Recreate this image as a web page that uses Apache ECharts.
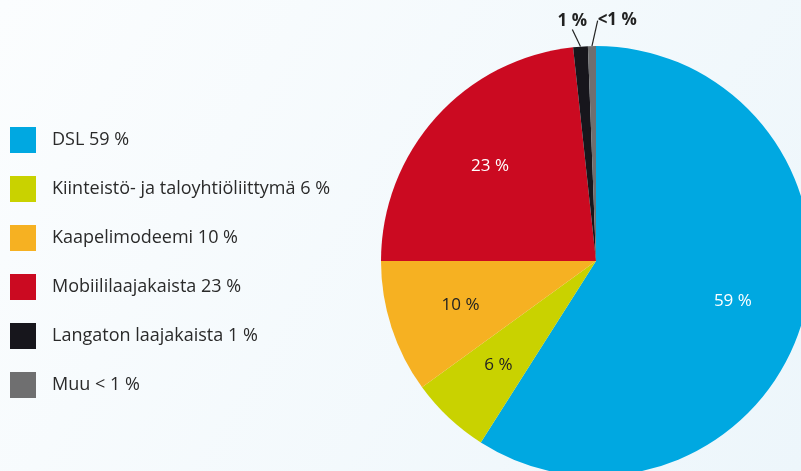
<!DOCTYPE html>
<html>
<head>
<meta charset="utf-8">
<script src="https://cdn.jsdelivr.net/npm/echarts@6/dist/echarts.min.js"></script>
<style>
html, body { margin: 0; padding: 0; }
#pie { width: 801px; height: 471px; }
</style>
</head>
<body>
<div id="pie"></div>
<script>
// liittymätyypit
var names = ['DSL', 'Kiinteistö- ja taloyhtiöliittymä', 'Kaapelimodeemi', 'Mobiililaajakaista', 'Langaton laajakaista', 'Muu'];
var legendTexts = ['DSL 59 %', 'Kiinteistö- ja taloyhtiöliittymä 6 %', 'Kaapelimodeemi 10 %', 'Mobiililaajakaista 23 %', 'Langaton laajakaista 1 %', 'Muu < 1 %'];
var values = [59, 6, 10, 23.3, 1.1, 0.6];
var sliceLabels = ['59 %', '6 %', '10 %', '23 %', '1 %', '<1 %'];
var colors = ['#00a8e1', '#c9d200', '#f6b122', '#cb0a21', '#17161c', '#6f6f70'];
var labelColors = ['#ffffff', '#222222', '#222222', '#ffffff', '#222222', '#222222'];

(function(){
	var chart = echarts.init(document.getElementById('pie'));

	var mainData = [];
	var labelData = [];
	for (var i = 0; i < names.length; i++) {
		var small = i >= 4;
		mainData.push({
			name: names[i],
			value: values[i],
			itemStyle: { color: colors[i] },
			label: { show: small },
			labelLine: { show: small }
		});
		labelData.push({
			name: names[i],
			value: values[i],
			label: { show: !small, color: labelColors[i] }
		});
	}

	var option = {
		backgroundColor: {
			type: 'linear', x: 0, y: 0, x2: 1, y2: 1,
			colorStops: [
				{ offset: 0, color: '#fbfdfe' },
				{ offset: 1, color: '#edf6fb' }
			]
		},
		color: colors,
		legend: {
			orient: 'vertical',
			left: 5,
			top: 122,
			itemWidth: 26,
			itemHeight: 26,
			itemGap: 23,
			icon: 'rect',
			data: names,
			formatter: function (name) {
				return legendTexts[names.indexOf(name)];
			},
			textStyle: {
				fontFamily: 'Open Sans',
				fontSize: 18,
				color: '#2a2a2a',
				padding: [0, 0, 0, 11]
			}
		},
		series: [
			{
				name: 'liittymät',
				type: 'pie',
				center: [596, 261],
				radius: 215,
				startAngle: 90,
				clockwise: true,
				avoidLabelOverlap: false,
				data: mainData,
				label: {
					position: 'outside',
					fontFamily: 'Open Sans',
					fontSize: 17,
					fontWeight: 'bold',
					color: '#222222',
					formatter: function (p) { return sliceLabels[p.dataIndex]; }
				},
				labelLine: {
					length: 16,
					length2: 0,
					lineStyle: { color: '#222222', width: 1.2 }
				},
				labelLayout: function (p) {
					var pts = p.labelLinePoints;
					if (!pts) return {};
					var end = pts[pts.length - 1];
					if (p.dataIndex === 4) {
						return { x: end[0] - 7, y: end[1] - 1, align: 'center', verticalAlign: 'bottom' };
					}
					return { x: end[0] + 6, y: end[1] - 1, align: 'left', verticalAlign: 'bottom' };
				}
			},
			{
				name: 'arvot',
				type: 'pie',
				center: [596, 261],
				radius: [64, 215],
				startAngle: 90,
				clockwise: true,
				silent: true,
				itemStyle: { color: 'rgba(0,0,0,0)' },
				data: labelData,
				label: {
					position: 'inside',
					fontFamily: 'Open Sans',
					fontSize: 17,
					fontWeight: 500,
					formatter: function (p) { return sliceLabels[p.dataIndex]; }
				}
			}
		]
	};

	chart.setOption(option);
})();
</script>
</body>
</html>
